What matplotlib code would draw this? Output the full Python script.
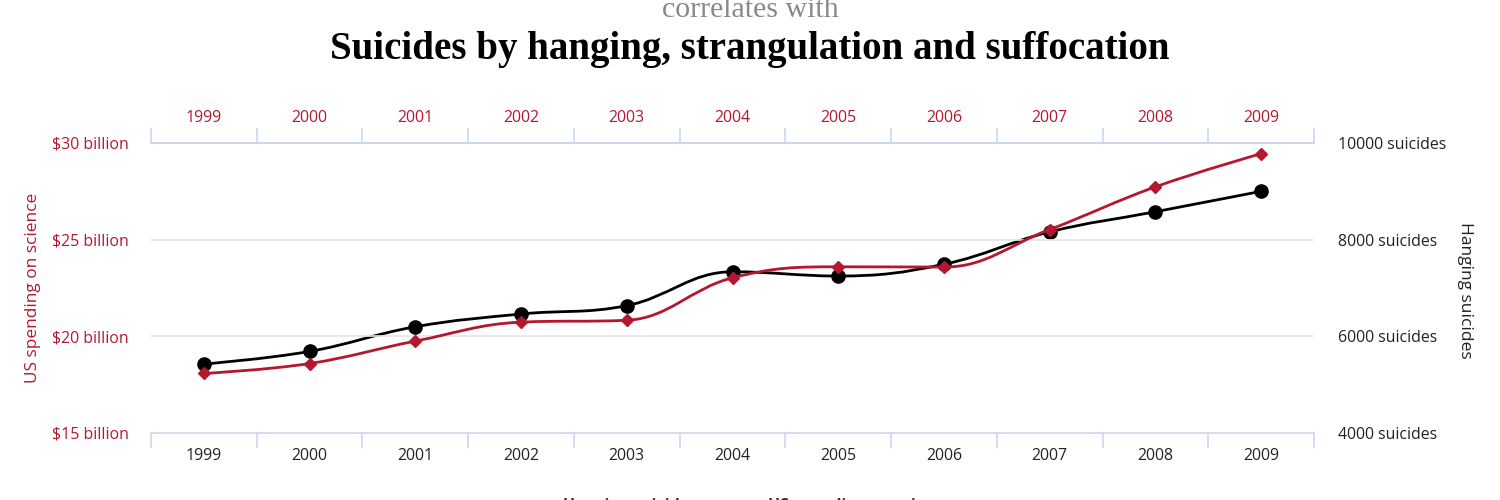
import numpy as np
import matplotlib
matplotlib.use("Agg")
import matplotlib.pyplot as plt
from matplotlib.path import Path
from matplotlib.patches import PathPatch
from matplotlib.lines import Line2D
from matplotlib.ticker import FixedLocator, FuncFormatter

years = [1999, 2000, 2001, 2002, 2003, 2004, 2005, 2006, 2007, 2008, 2009]
# US spending on science, space and technology (billions of dollars)
spending = [18.079, 18.594, 19.753, 20.734, 20.831, 23.029, 23.597, 23.584, 25.525, 27.731, 29.449]
# suicides by hanging, strangulation and suffocation
hanging = [5427, 5688, 6198, 6462, 6635, 7336, 7248, 7491, 8161, 8578, 9000]

RED = '#b5172f'
AXIS = '#ccd6eb'
GRID = '#e6e6e6'
SERIF = ['Liberation Serif', 'DejaVu Serif']
TS = 11.4  # tick label size

plt.rcParams['font.family'] = ['Open Sans', 'DejaVu Sans']


def spline_path(xs, ys, smoothing=1.5):
    # highcharts style spline, control points from neighbours
    denom = smoothing + 1
    n = len(xs)
    left = [(xs[i], ys[i]) for i in range(n)]
    right = [(xs[i], ys[i]) for i in range(n)]
    for i in range(1, n - 1):
        px, py = xs[i], ys[i]
        lx, ly = xs[i - 1], ys[i - 1]
        nx, ny = xs[i + 1], ys[i + 1]
        lcx = (smoothing * px + lx) / denom
        lcy = (smoothing * py + ly) / denom
        rcx = (smoothing * px + nx) / denom
        rcy = (smoothing * py + ny) / denom
        if rcx != lcx:
            corr = (rcy - lcy) * (rcx - px) / (rcx - lcx) + py - rcy
            lcy += corr
            rcy += corr
        if lcy > max(ly, py):
            lcy = max(ly, py); rcy = 2 * py - lcy
        elif lcy < min(ly, py):
            lcy = min(ly, py); rcy = 2 * py - lcy
        if rcy > max(py, ny):
            rcy = max(py, ny); lcy = 2 * py - rcy
        elif rcy < min(py, ny):
            rcy = min(py, ny); lcy = 2 * py - rcy
        left[i] = (lcx, lcy)
        right[i] = (rcx, rcy)
    verts = [(xs[0], ys[0])]
    codes = [Path.MOVETO]
    for i in range(1, n):
        verts += [right[i - 1], left[i], (xs[i], ys[i])]
        codes += [Path.CURVE4] * 3
    return Path(verts, codes)


x = np.arange(len(years))

fig = plt.figure(figsize=(15, 5), dpi=100)
ax = fig.add_axes([151 / 1500, 1 - 433 / 500, (1314 - 151) / 1500, 290 / 500])
ax2 = ax.twinx()

ax.set_xlim(-0.5, len(years) - 0.5)
ax.set_ylim(15, 30)
ax2.set_ylim(4000, 10000)

# grid lines
for v in [20, 25]:
    ax.axhline(v, color=GRID, lw=1.2, zorder=0)

# hanging suicides (black, behind)
ax2.add_patch(PathPatch(spline_path(x, hanging), fill=False, ec='black', lw=2.0, zorder=3))
ax2.plot(x, hanging, 'o', color='black', ms=9.5, zorder=4)
# spending (red, on top)
ax2.set_zorder(ax.get_zorder() - 1)
ax.patch.set_visible(False)
ax.add_patch(PathPatch(spline_path(x, spending), fill=False, ec=RED, lw=2.0, zorder=5))
ax.plot(x, spending, 'D', color=RED, ms=6, zorder=6)

for a in (ax, ax2):
    for s in ['left', 'right']:
        a.spines[s].set_visible(False)
    for s in ['top', 'bottom']:
        a.spines[s].set_color(AXIS)
        a.spines[s].set_linewidth(1.2)

# x axes: labels at centres, ticks at boundaries
ax.xaxis.set_major_locator(FixedLocator(x))
ax.xaxis.set_minor_locator(FixedLocator(np.arange(-0.5, len(years), 1.0)))
ax.set_xticklabels([str(y) for y in years])
ax.tick_params(axis='x', which='major', length=0, pad=11, labelsize=TS, labelcolor='#222222')
ax.tick_params(axis='x', which='minor', length=11, width=1.2, color=AXIS, direction='out')

top = ax.secondary_xaxis('top')
top.xaxis.set_major_locator(FixedLocator(x))
top.xaxis.set_minor_locator(FixedLocator(np.arange(-0.5, len(years), 1.0)))
top.set_xticklabels([str(y) for y in years])
top.tick_params(axis='x', which='major', length=0, pad=12, labelsize=TS, labelcolor=RED)
top.tick_params(axis='x', which='minor', length=11, width=1.2, color=AXIS, direction='out')
top.spines['top'].set_color(AXIS)
top.spines['top'].set_linewidth(1.2)

ax2.spines['top'].set_visible(False)
ax2.spines['bottom'].set_visible(False)

# y axes
ax.yaxis.set_major_locator(FixedLocator([15, 20, 25, 30]))
ax.yaxis.set_major_formatter(FuncFormatter(lambda v, p: '$%d billion' % v))
ax.tick_params(axis='y', length=0, pad=16, labelsize=TS, labelcolor=RED)
ax2.yaxis.set_major_locator(FixedLocator([4000, 6000, 8000, 10000]))
ax2.yaxis.set_major_formatter(FuncFormatter(lambda v, p: '%d suicides' % v))
ax2.tick_params(axis='y', length=0, pad=17, labelsize=TS, labelcolor='#222222')

fig.text(33 / 1500, 1 - 288 / 500, 'US spending on science', rotation=90, color=RED,
         fontsize=12.4, ha='center', va='center')
fig.text(1465 / 1500, 1 - 290 / 500, 'Hanging suicides', rotation=-90, color='#222222',
         fontsize=12.5, ha='center', va='center')

# titles
fig.text(0.5, 1 - 10 / 500, 'correlates with', family=SERIF,
         color='#888888', fontsize=21.5, ha='center', va='center')
fig.text(0.5, 1 - 49 / 500, 'Suicides by hanging, strangulation and suffocation',
         family=SERIF, fontweight='bold',
         color='black', fontsize=28, ha='center', va='center')

# legend, cut at the bottom edge
ly = 1 - 506 / 500
fig.add_artist(Line2D([548 / 1500], [ly], marker='o', color='black', ms=7, transform=fig.transFigure))
fig.text(563 / 1500, ly, 'Hanging suicides', fontsize=11.5, fontweight='bold', color='#333333',
         ha='left', va='center')
fig.add_artist(Line2D([755 / 1500], [ly], marker='D', color=RED, ms=5, transform=fig.transFigure))
fig.text(768 / 1500, ly, 'US spending on science', fontsize=11.5, fontweight='bold', color='#333333',
         ha='left', va='center')

fig.savefig('out.png', dpi=100)
